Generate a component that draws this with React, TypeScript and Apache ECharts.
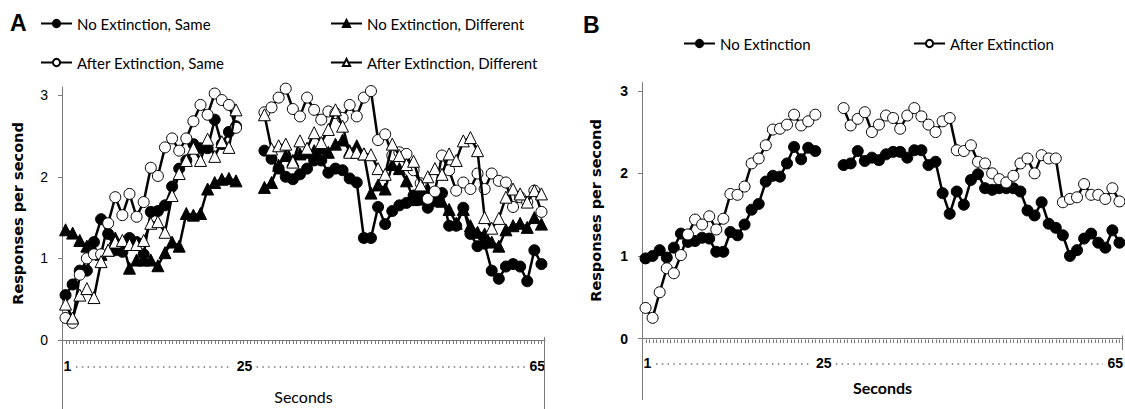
import React, { useEffect, useRef } from "react";
import * as echarts from "echarts";

// time bins (slots) of the two recorded stretches, and the unrecorded slot between them
const firstBins = [1, 2, 3, 4, 5, 6, 7, 8, 9, 10, 11, 12, 13, 14, 15, 16, 17, 18, 19, 20, 21, 22, 23, 24, 25];
const secondBins = [29, 30, 31, 32, 33, 34, 35, 36, 37, 38, 39, 40, 41, 42, 43, 44, 45, 46, 47, 48, 49, 50, 51, 52, 53, 54, 55, 56, 57, 58, 59, 60, 61, 62, 63, 64, 65, 66, 67, 68];
const gapBin = 26;

// Panel A
const aNoExtSame1 = [0.55, 0.68, 0.85, 0.85, 1.2, 1.48, 1.3, 1.1, 1.08, 1.25, 1.2, 1.05, 1.57, 1.58, 1.65, 1.88, 2.1, 2.2, 2.4, 2.35, 2.35, 2.7, 2.4, 2.55, 2.62];
const aNoExtSame2 = [2.32, 2.22, 2.1, 2.0, 1.97, 2.03, 2.1, 2.2, 2.2, 2.05, 2.1, 2.08, 1.98, 1.93, 1.25, 1.25, 1.63, 1.42, 1.58, 1.65, 1.68, 1.77, 1.72, 1.62, 1.7, 1.8, 1.4, 1.4, 1.62, 1.3, 1.15, 1.18, 0.85, 0.75, 0.9, 0.93, 0.9, 0.72, 1.1, 0.93];
const aNoExtDiff1 = [1.35, 1.31, 1.22, 1.15, 1.1, 1.05, 1.1, 1.25, 1.2, 0.88, 0.98, 0.98, 0.98, 0.91, 1.07, 1.2, 1.15, 1.55, 1.53, 1.55, 1.85, 1.93, 1.97, 1.98, 1.95];
const aNoExtDiff2 = [1.87, 1.93, 2.14, 2.26, 2.2, 2.28, 2.3, 2.32, 2.35, 2.3, 2.4, 2.45, 2.32, 2.38, 2.28, 1.8, 1.9, 1.85, 2.15, 2.1, 1.95, 1.72, 1.8, 1.85, 1.8, 1.7, 1.6, 1.43, 1.6, 1.4, 1.32, 1.3, 1.2, 1.15, 1.35, 1.4, 1.43, 1.38, 1.5, 1.42];
const aAfterSame1 = [0.27, 0.21, 0.8, 1.0, 1.05, 1.05, 1.43, 1.75, 1.53, 1.79, 1.51, 1.69, 2.11, 2.01, 2.36, 2.47, 2.32, 2.47, 2.68, 2.88, 2.76, 3.02, 2.94, 2.88, 2.6];
const aAfterSame2 = [2.79, 2.85, 2.97, 3.08, 2.83, 2.74, 2.97, 2.82, 2.7, 2.8, 2.78, 2.72, 2.88, 2.74, 2.97, 3.05, 2.45, 2.52, 2.26, 2.3, 2.28, 2.08, 1.92, 1.73, 1.82, 2.26, 2.08, 1.83, 1.93, 1.85, 2.04, 1.85, 2.04, 1.95, 1.93, 1.63, 1.75, 1.69, 1.83, 1.57];
const aAfterDiff1 = [0.44, 0.27, 0.55, 0.63, 0.52, 0.96, 1.1, 1.2, 1.22, 1.17, 1.17, 1.22, 1.43, 1.45, 1.32, 1.77, 2.04, 2.2, 2.35, 2.2, 2.46, 2.25, 2.43, 2.36, 2.82];
const aAfterDiff2 = [2.76, 2.34, 2.38, 2.4, 2.18, 2.44, 2.35, 2.54, 2.42, 2.58, 2.82, 2.62, 2.3, 2.3, 2.28, 2.27, 2.1, 2.03, 2.4, 2.26, 2.15, 2.19, 1.9, 2.0, 2.1, 2.03, 2.28, 2.2, 2.44, 2.48, 2.32, 1.5, 1.37, 1.49, 1.75, 1.85, 1.79, 1.69, 1.83, 1.79];

// Panel B
const bNoExt1 = [0.97, 1.0, 1.07, 0.98, 1.1, 1.27, 1.17, 1.18, 1.22, 1.21, 1.05, 1.05, 1.29, 1.25, 1.38, 1.56, 1.63, 1.9, 1.97, 1.96, 2.12, 2.32, 2.17, 2.31, 2.27];
const bNoExt2 = [2.1, 2.12, 2.27, 2.15, 2.19, 2.16, 2.23, 2.26, 2.26, 2.19, 2.28, 2.28, 2.1, 2.14, 1.76, 1.51, 1.78, 1.62, 1.92, 1.99, 1.82, 1.8, 1.82, 1.82, 1.82, 1.78, 1.55, 1.49, 1.65, 1.39, 1.34, 1.25, 1.0, 1.07, 1.21, 1.27, 1.16, 1.1, 1.31, 1.16];
const bAfter1 = [0.37, 0.25, 0.56, 0.85, 0.79, 1.01, 1.26, 1.44, 1.38, 1.48, 1.32, 1.45, 1.75, 1.74, 1.84, 2.12, 2.18, 2.34, 2.53, 2.54, 2.59, 2.71, 2.58, 2.63, 2.71];
const bAfter2 = [2.79, 2.58, 2.66, 2.74, 2.5, 2.59, 2.7, 2.67, 2.54, 2.7, 2.79, 2.69, 2.59, 2.5, 2.63, 2.67, 2.28, 2.27, 2.34, 2.14, 2.12, 2.0, 1.93, 1.89, 1.97, 2.12, 2.18, 2.0, 2.22, 2.18, 2.18, 1.65, 1.69, 1.71, 1.87, 1.74, 1.74, 1.69, 1.82, 1.66];

const seriesNamesA = ["No Extinction, Same", "No Extinction, Different", "After Extinction, Same", "After Extinction, Different"];
const seriesNamesB = ["No Extinction", "After Extinction"];

const yTickValues = [0, 1, 2, 3];
const xTickLabels = ["1", "25", "65"];
const xTickLabelAt = [1, 26.2, 68];

const X_MIN = 0.5;
const X_MAX = 68.5;
const X_TICK_STEP = 0.5;

function join(a: number[], b: number[]) {
  return [
    ...firstBins.map((x, i) => [x, a[i]]),
    [gapBin, null],
    ...secondBins.map((x, i) => [x, b[i]]),
  ];
}

const FONT = "Lato";
const BOLD_FONT = "Liberation Sans";
const AXIS_GREY = "#7a7a7a";

function mkSeries(name: string, data: any[], g: number, symbol: string, filled: boolean, size: number, z: number) {
  return {
    type: "line",
    name,
    xAxisIndex: g,
    yAxisIndex: g,
    data,
    symbol,
    symbolSize: size,
    showSymbol: true,
    showAllSymbol: true,
    connectNulls: false,
    z,
    lineStyle: { color: "#000", width: 2.5 },
    itemStyle: { color: filled ? "#000" : "#fff", borderColor: "#000", borderWidth: 1 },
    emphasis: { disabled: true },
  };
}

function mkX(g: number, boldName: boolean, nameGap: number) {
  return {
    type: "value",
    gridIndex: g,
    min: X_MIN,
    max: X_MAX,
    interval: X_TICK_STEP,
    axisLine: { show: true, lineStyle: { color: AXIS_GREY, width: 1 } },
    axisTick: { show: false },
    axisLabel: { show: false },
    splitLine: { show: false },
    name: "Seconds",
    nameLocation: "middle",
    nameGap,
    nameTextStyle: boldName
      ? { fontFamily: FONT, fontWeight: "bold", fontSize: 16, color: "#000" }
      : { fontFamily: FONT, fontSize: 16, color: "#000" },
  };
}

function mkY(g: number, boldLabels: boolean, nameGap: number) {
  return {
    type: "value",
    gridIndex: g,
    min: 0,
    max: 3.1,
    axisLine: { show: true, lineStyle: { color: AXIS_GREY, width: 1 } },
    axisTick: { show: true, customValues: yTickValues, length: 4, lineStyle: { color: AXIS_GREY } },
    axisLabel: {
      show: true,
      customValues: yTickValues,
      margin: 14,
      fontFamily: BOLD_FONT,
      fontWeight: boldLabels ? "bold" : "normal",
      fontSize: 14,
      color: "#000",
    },
    splitLine: { show: false },
    name: "Responses per second",
    nameLocation: "middle",
    nameGap,
    nameRotate: 90,
    nameTextStyle: { fontFamily: "DejaVu Sans", fontWeight: "bold", fontSize: 14.5, color: "#000" },
  };
}

function mkLegend(name: string, left: number, top: number) {
  return {
    data: [name],
    left,
    top,
    padding: 0,
    itemWidth: 31,
    itemHeight: 9,
    selectedMode: false,
    textStyle: { fontFamily: FONT, fontSize: 15, color: "#000" },
  };
}

export default function App() {
  const ref = useRef<HTMLDivElement>(null);
  useEffect(() => {
    if (!ref.current) return;
    const chart = echarts.init(ref.current, undefined, { renderer: "svg" });
    const option: any = {
      animation: false,
      backgroundColor: "#fff",
      grid: [
        { left: 62, top: 87, width: 483, height: 256.5 },
        { left: 642, top: 82.5, width: 481, height: 256 },
      ],
      xAxis: [mkX(0, false, 48), mkX(1, true, 41)],
      yAxis: [mkY(0, false, 37), mkY(1, true, 39)],
      legend: [
        mkLegend(seriesNamesA[0], 40, 16),
        mkLegend(seriesNamesA[1], 330, 16),
        mkLegend(seriesNamesA[2], 40, 55),
        mkLegend(seriesNamesA[3], 330, 55),
        mkLegend(seriesNamesB[0], 683, 36),
        mkLegend(seriesNamesB[1], 913, 36),
      ],
      series: [
        mkSeries(seriesNamesA[0], join(aNoExtSame1, aNoExtSame2), 0, "circle", true, 11, 2),
        mkSeries(seriesNamesA[1], join(aNoExtDiff1, aNoExtDiff2), 0, "triangle", true, 12, 3),
        mkSeries(seriesNamesA[2], join(aAfterSame1, aAfterSame2), 0, "circle", false, 11, 4),
        mkSeries(seriesNamesA[3], join(aAfterDiff1, aAfterDiff2), 0, "triangle", false, 12, 5),
        mkSeries(seriesNamesB[0], join(bNoExt1, bNoExt2), 1, "circle", true, 11, 2),
        mkSeries(seriesNamesB[1], join(bAfter1, bAfter2), 1, "circle", false, 11, 3),
      ],
    };
    chart.setOption(option);

    const px = (g: number, x: number) => (chart.convertToPixel({ gridIndex: g } as any, [x, 0]) as number[]);
    const gfx: any[] = [];
    gfx.push({ type: "text", x: 10, y: 11, style: { text: "A", fontFamily: BOLD_FONT, fontWeight: "bold", fontSize: 23, fill: "#000" } });
    gfx.push({ type: "text", x: 583, y: 13, style: { text: "B", fontFamily: BOLD_FONT, fontWeight: "bold", fontSize: 23, fill: "#000" } });

    const rows = [
      { g: 0, rowY: 366, leftEnd: 409, rightEnd: 409 },
      { g: 1, rowY: 363, leftEnd: 400, rightEnd: 350 },
    ];
    rows.forEach(({ g, rowY, leftEnd, rightEnd }) => {
      const [x0, y0] = px(g, X_MIN);
      const [x1] = px(g, X_MAX);
      const yLine = Math.round(y0) + 0.5;
      // fine tick strip under the time axis
      for (let t = X_MIN + X_TICK_STEP; t < X_MAX; t += X_TICK_STEP) {
        const tx = Math.round(px(g, t)[0]) + 0.5;
        gfx.push({ type: "line", silent: true, shape: { x1: tx, y1: yLine, x2: tx, y2: yLine + 3.5 }, style: { stroke: AXIS_GREY, lineWidth: 1 } });
      }
      const pos = xTickLabelAt.map((v) => px(g, v)[0]);
      const style = { fontFamily: BOLD_FONT, fontWeight: "bold", fontSize: 14, fill: "#000", verticalAlign: "middle" };
      gfx.push({ type: "text", x: x0 + 1.5, y: rowY, style: { ...style, text: xTickLabels[0], align: "left" } });
      gfx.push({ type: "text", x: pos[1], y: rowY, style: { ...style, text: xTickLabels[1], align: "center" } });
      gfx.push({ type: "text", x: x1, y: rowY, style: { ...style, text: xTickLabels[2], align: "right" } });
      const dot = { stroke: "#333", lineWidth: 1.2, lineDash: [1.5, 4.3] };
      gfx.push({ type: "line", shape: { x1: x0 + 14, y1: rowY + 1, x2: pos[1] - 12, y2: rowY + 1 }, style: dot });
      gfx.push({ type: "line", shape: { x1: pos[1] + 12, y1: rowY + 1, x2: x1 - 20, y2: rowY + 1 }, style: dot });
      const ax = Math.round(x0) + 0.5;
      const bx = Math.round(x1) - 0.5;
      gfx.push({ type: "line", shape: { x1: ax, y1: y0, x2: ax, y2: leftEnd }, style: { stroke: AXIS_GREY, lineWidth: 1 } });
      gfx.push({ type: "line", shape: { x1: bx, y1: y0 - 3, x2: bx, y2: rightEnd }, style: { stroke: AXIS_GREY, lineWidth: 1 } });
    });
    chart.setOption({ graphic: gfx });

    return () => chart.dispose();
  }, []);
  return <div ref={ref} style={{ position: "fixed", left: 0, top: 0, width: 1125, height: 409, background: "#fff" }} />;
}
